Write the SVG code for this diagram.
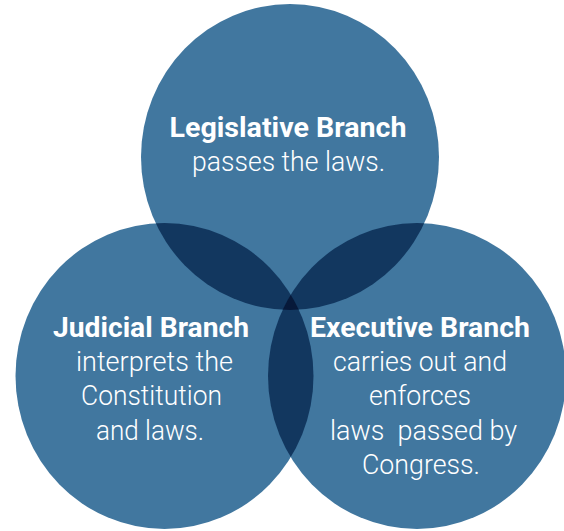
<svg xmlns="http://www.w3.org/2000/svg" width="564" height="531" viewBox="0 0 564 531">
<style>
.c{fill:#41779f}
.d{fill:#12375f}
.t{fill:#07193a}
text{font-family:Roboto,"Open Sans","Liberation Sans",sans-serif;fill:#ffffff;text-anchor:middle;font-size:27px}
.h{font-weight:700}
.b{font-weight:300}
</style>
<defs>
<clipPath id="cpTop"><ellipse cx="290" cy="157" rx="149" ry="153"/></clipPath>
<clipPath id="cpLeft"><ellipse cx="164.5" cy="376" rx="149" ry="153"/></clipPath>
</defs>
<rect width="564" height="531" fill="#ffffff"/>
<g id="legislative">
<ellipse class="c" cx="290" cy="157" rx="149" ry="153"/>
</g>
<g id="judicial">
<ellipse class="c" cx="164.5" cy="376" rx="149" ry="153"/>
</g>
<g id="executive">
<ellipse class="c" cx="417" cy="376" rx="149" ry="153"/>
</g>
<g id="overlaps">
<g clip-path="url(#cpTop)"><ellipse class="d" cx="164.5" cy="376" rx="149" ry="153"/><ellipse class="d" cx="417" cy="376" rx="149" ry="153"/></g>
<g clip-path="url(#cpLeft)"><ellipse class="d" cx="417" cy="376" rx="149" ry="153"/></g>
<g clip-path="url(#cpTop)"><g clip-path="url(#cpLeft)"><ellipse class="t" cx="417" cy="376" rx="149" ry="153"/></g></g>
</g>
<g id="labels-legislative">
<text class="h" x="288" y="137" textLength="237" lengthAdjust="spacingAndGlyphs">Legislative Branch</text>
<text class="b" x="288.5" y="171" textLength="193" lengthAdjust="spacingAndGlyphs">passes the laws.</text>
</g>
<g id="labels-judicial">
<text class="h" x="151" y="337" textLength="196" lengthAdjust="spacingAndGlyphs">Judicial Branch</text>
<text class="b" x="154.5" y="371" textLength="157" lengthAdjust="spacingAndGlyphs">interprets the</text>
<text class="b" x="151.5" y="405" textLength="141" lengthAdjust="spacingAndGlyphs">Constitution</text>
<text class="b" x="150" y="440" textLength="108" lengthAdjust="spacingAndGlyphs">and laws.</text>
</g>
<g id="labels-executive">
<text class="h" x="420" y="337" textLength="220" lengthAdjust="spacingAndGlyphs">Executive Branch</text>
<text class="b" x="420" y="371" textLength="174" lengthAdjust="spacingAndGlyphs">carries out and</text>
<text class="b" x="420" y="405" textLength="102" lengthAdjust="spacingAndGlyphs">enforces</text>
<text class="b" x="423.5" y="440" textLength="187" lengthAdjust="spacingAndGlyphs" xml:space="preserve">laws  passed by</text>
<text class="b" x="421" y="474" textLength="118" lengthAdjust="spacingAndGlyphs">Congress.</text>
</g>
</svg>
